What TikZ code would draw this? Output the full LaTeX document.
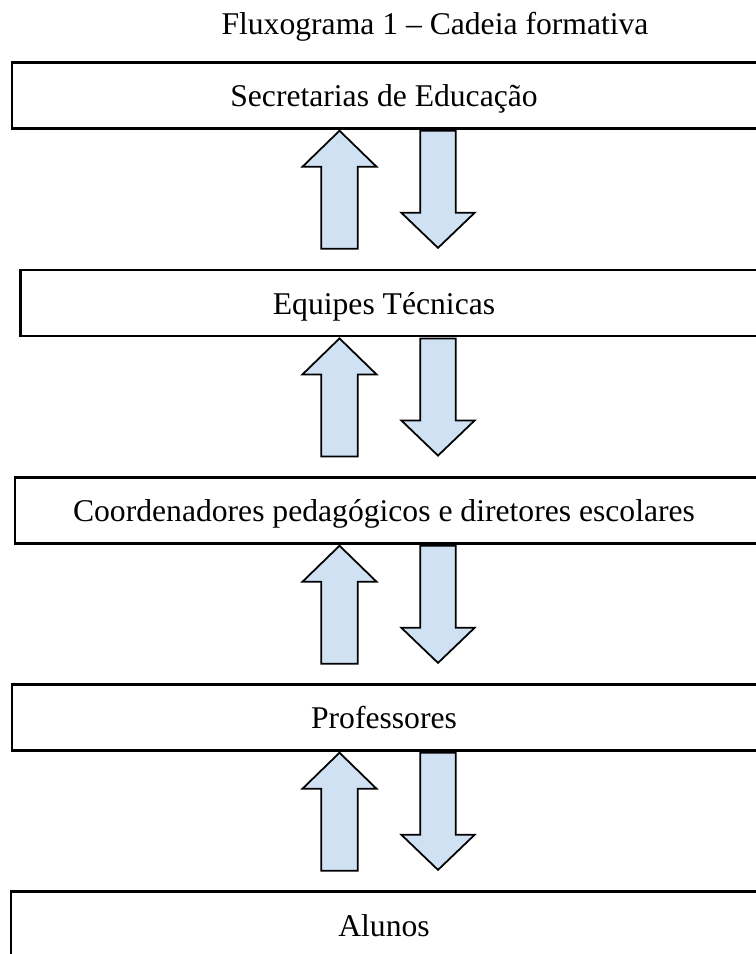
\documentclass[tikz,border=0pt]{standalone}
\usepackage{fontspec}
\setmainfont{Liberation Serif}
\usetikzlibrary{positioning,calc}
\definecolor{lightsky}{RGB}{207,225,242}

\tikzset{
  uparr/.pic={\draw[blockarrow] (0,2.4) -- (37,38.4) -- (18.3,38.4) -- (18.3,120.5)
      -- (-18.3,120.5) -- (-18.3,38.4) -- (-37,38.4) -- cycle;},
  downarr/.pic={\draw[blockarrow] (-17.8,2.5) -- (17.8,2.5) -- (17.8,84.4) -- (36.7,84.4)
      -- (0,119.6) -- (-36.7,84.4) -- (-17.8,84.4) -- cycle;}
}

\begin{document}
\begin{tikzpicture}[x=0.03cm,y=-0.03cm,
    stage/.style={draw, line width=2.3pt, minimum width=23.4cm, minimum height=1.98cm,
      inner sep=0pt, outer sep=0pt, anchor=north west},
    stagetext/.style={font=\fontsize{27}{32}\selectfont, anchor=base, inner sep=0pt},
    blockarrow/.style={draw=black, line width=1.5pt, fill=lightsky, line join=miter}]

    \useasboundingbox (0,0) rectangle (755,954);

    % =====================
    % Title
    % =====================
    \node[stagetext] (title) at (435,35) {Fluxograma 1 – Cadeia formativa};

    % =====================
    % Boxes
    % =====================
    \node[stage] (sec) at (12,62.3) {};
    \node[stagetext] (sectxt) at (384,106.7) {Secretarias de Educação};

    \node[stage] (eq) at (20.5,270) {};
    \node[stagetext] (eqtxt) at (384,314.4) {Equipes Técnicas};

    \node[stage] (coord) at (15,477.3) {};
    \node[stagetext] (coordtxt) at (384,521.7) {Coordenadores pedagógicos e diretores escolares};

    \node[stage] (prof) at (12,684.3) {};
    \node[stagetext] (proftxt) at (384,728.7) {Professores};

    \node[stage] (alu) at (11,891.7) {};
    \node[stagetext] (alutxt) at (384,936.1) {Alunos};

    % =====================
    % Arrows
    % =====================
    \coordinate (upx) at (339.5,0);
    \coordinate (dnx) at (438,0);

    \pic at (sec.south -| upx) {uparr};
    \pic at (sec.south -| dnx) {downarr};
    \pic at (eq.south -| upx) {uparr};
    \pic at (eq.south -| dnx) {downarr};
    \pic at (coord.south -| upx) {uparr};
    \pic at (coord.south -| dnx) {downarr};
    \pic at (prof.south -| upx) {uparr};
    \pic at (prof.south -| dnx) {downarr};

\end{tikzpicture}
\end{document}
